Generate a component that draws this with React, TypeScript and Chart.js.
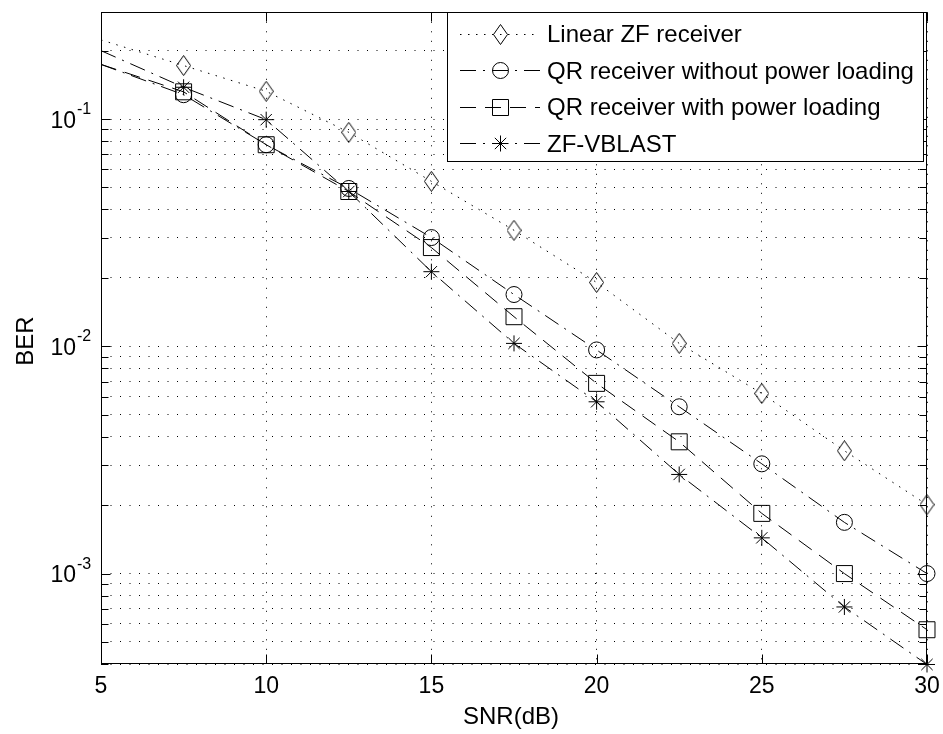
import React, { useEffect, useRef } from 'react';
import { Chart, registerables } from 'chart.js';

Chart.register(...registerables);

// ---------- data ----------
const snrDb = [5, 7.5, 10, 12.5, 15, 17.5, 20, 22.5, 25, 27.5, 30];
const linearZF = [0.223, 0.172, 0.1325, 0.0874, 0.0532, 0.0324, 0.0191, 0.0103, 0.0062, 0.00347, 0.00201];
const qrNoPowerLoading = [0.174, 0.128, 0.0771, 0.0495, 0.0301, 0.0169, 0.00964, 0.00542, 0.00304, 0.00168, 0.001];
const qrPowerLoading = [0.174, 0.1318, 0.0771, 0.048, 0.0272, 0.0135, 0.00687, 0.0038, 0.00184, 0.001, 0.000566];
const zfVblast = [0.2, 0.138, 0.0994, 0.048, 0.0213, 0.0103, 0.0057, 0.00273, 0.001436, 0.000713, 0.000398];

const seriesLabels = [
  'Linear ZF receiver',
  'QR receiver without power loading',
  'QR receiver with power loading',
  'ZF-VBLAST',
];

const xTicks = [5, 10, 15, 20, 25, 30];
const yTicks = [
  0.0004, 0.0005, 0.0006, 0.0007, 0.0008, 0.0009,
  0.001, 0.002, 0.003, 0.004, 0.005, 0.006, 0.007, 0.008, 0.009,
  0.01, 0.02, 0.03, 0.04, 0.05, 0.06, 0.07, 0.08, 0.09,
  0.1, 0.2,
];
const yDecades = [0.001, 0.01, 0.1];
const yDecadeExponents = ['-3', '-2', '-1'];

const xLabel = 'SNR(dB)';
const yLabel = 'BER';

const FONT = "'Liberation Sans', Arial, Helvetica, sans-serif";

type MarkerKind = 'diamond' | 'circle' | 'square' | 'star';
const seriesStyles: { dash: number[]; marker: MarkerKind }[] = [
  { dash: [1.5, 6.5], marker: 'diamond' },
  { dash: [16, 7, 2, 7], marker: 'circle' },
  { dash: [16, 9], marker: 'square' },
  { dash: [16, 7, 2, 7], marker: 'star' },
];

function makeDiamond(w: number, h: number): HTMLCanvasElement {
  const c = document.createElement('canvas');
  c.width = w;
  c.height = h;
  const g = c.getContext('2d')!;
  g.strokeStyle = '#000';
  g.lineWidth = 1;
  g.beginPath();
  g.moveTo(w / 2, 0.5);
  g.lineTo(w - 0.5, h / 2);
  g.lineTo(w / 2, h - 0.5);
  g.lineTo(0.5, h / 2);
  g.closePath();
  g.stroke();
  return c;
}

function drawMarker(ctx: CanvasRenderingContext2D, kind: MarkerKind, x: number, y: number, diamond: HTMLCanvasElement) {
  ctx.save();
  ctx.setLineDash([]);
  ctx.strokeStyle = '#000';
  ctx.lineWidth = 1;
  ctx.beginPath();
  if (kind === 'diamond') {
    ctx.drawImage(diamond, Math.round(x - diamond.width / 2), Math.round(y - diamond.height / 2));
  } else if (kind === 'circle') {
    ctx.arc(x, y, 8, 0, Math.PI * 2);
    ctx.stroke();
  } else if (kind === 'square') {
    ctx.rect(x - 8, y - 8, 16, 16);
    ctx.stroke();
  } else {
    const r = 8;
    const d = r * Math.SQRT1_2;
    ctx.moveTo(x - r, y); ctx.lineTo(x + r, y);
    ctx.moveTo(x, y - r); ctx.lineTo(x, y + r);
    ctx.moveTo(x - d, y - d); ctx.lineTo(x + d, y + d);
    ctx.moveTo(x - d, y + d); ctx.lineTo(x + d, y - d);
    ctx.stroke();
  }
  ctx.restore();
}

export default function App() {
  const canvasRef = useRef<HTMLCanvasElement | null>(null);

  useEffect(() => {
    const canvas = canvasRef.current;
    if (!canvas) return;
    const diamond = makeDiamond(15, 21);
    const seriesValues = [linearZF, qrNoPowerLoading, qrPowerLoading, zfVblast];
    const pointStyleFor = (k: MarkerKind): any =>
      k === 'diamond' ? diamond : k === 'circle' ? 'circle' : k === 'square' ? 'rect' : 'star';
    const radiusFor = (k: MarkerKind) => (k === 'square' ? 11.3 : k === 'diamond' ? 8 : 8);

    const decor = {
      id: 'matlabDecor',
      afterDraw(chart: any) {
        const { ctx, chartArea: a, scales } = chart;
        const xs = scales.x;
        const ys = scales.y;
        const L = Math.round(a.left) + 0.5;
        const R = Math.round(a.right) - 0.5;
        const T = Math.round(a.top) + 0.5;
        const B = Math.round(a.bottom) - 0.5;
        ctx.save();
        ctx.setLineDash([]);
        ctx.strokeStyle = '#000';
        ctx.lineWidth = 1;
        // inner tick marks
        ctx.beginPath();
        for (const v of yTicks) {
          const py = Math.round(ys.getPixelForValue(v)) + 0.5;
          const len = yDecades.includes(v) ? 9 : 7;
          ctx.moveTo(L, py); ctx.lineTo(L + len, py);
          ctx.moveTo(R, py); ctx.lineTo(R - len, py);
        }
        for (const v of xTicks) {
          const px = Math.round(xs.getPixelForValue(v)) + 0.5;
          ctx.moveTo(px, B); ctx.lineTo(px, B - 9);
          ctx.moveTo(px, T); ctx.lineTo(px, T + 9);
        }
        ctx.stroke();
        // axes box
        ctx.lineWidth = 1;
        ctx.strokeRect(L, T, R - L, B - T);

        // tick labels
        ctx.fillStyle = '#000';
        ctx.font = `23px ${FONT}`;
        ctx.textAlign = 'center';
        ctx.textBaseline = 'alphabetic';
        for (const v of xTicks) {
          ctx.fillText(String(v), xs.getPixelForValue(v), a.bottom + 29);
        }
        yDecades.forEach((v, i) => {
          const py = ys.getPixelForValue(v);
          ctx.font = `23px ${FONT}`;
          ctx.textAlign = 'right';
          ctx.fillText('10', 76, py + 8.5);
          ctx.font = `16px ${FONT}`;
          ctx.textAlign = 'left';
          ctx.fillText(yDecadeExponents[i], 77, py - 5);
        });

        // axis titles
        ctx.font = `24px ${FONT}`;
        ctx.textAlign = 'center';
        ctx.fillText(xLabel, (a.left + a.right) / 2 - 3, 724);
        ctx.save();
        ctx.translate(33, 341);
        ctx.rotate(-Math.PI / 2);
        ctx.fillText(yLabel, 0, 0);
        ctx.restore();

        // legend
        const lx0 = 447.5, ly0 = 12.5, lx1 = 923.5, ly1 = 161.5;
        ctx.fillStyle = '#fff';
        ctx.fillRect(lx0, ly0, lx1 - lx0, ly1 - ly0);
        ctx.strokeStyle = '#000';
        ctx.lineWidth = 1;
        ctx.strokeRect(lx0, ly0, lx1 - lx0, ly1 - ly0);
        seriesLabels.forEach((label, i) => {
          const baseline = 42 + i * 36.5;
          const cy = Math.round(baseline - 8.5) + 0.5;
          const st = seriesStyles[i];
          ctx.save();
          ctx.strokeStyle = '#000';
          ctx.lineWidth = 1;
          ctx.setLineDash(st.dash);
          ctx.beginPath();
          ctx.moveTo(460, cy);
          ctx.lineTo(540, cy);
          ctx.stroke();
          ctx.restore();
          drawMarker(ctx, st.marker, 500.5, cy, diamond);
          ctx.fillStyle = '#000';
          ctx.font = `24px ${FONT}`;
          ctx.textAlign = 'left';
          ctx.textBaseline = 'alphabetic';
          ctx.fillText(label, 547, baseline);
        });
        ctx.restore();
      },
    };

    const chart = new Chart(canvas, {
      type: 'line',
      data: {
        datasets: seriesLabels.map((label, i) => {
          const st = seriesStyles[i];
          return {
            label,
            data: snrDb.map((x, j) => ({ x, y: seriesValues[i][j] })),
            borderColor: '#000',
            borderWidth: 1,
            borderDash: st.dash,
            backgroundColor: 'rgba(0,0,0,0)',
            fill: false,
            tension: 0,
            clip: false as any,
            pointStyle: pointStyleFor(st.marker),
            pointRadius: (c: any) => (c.dataIndex === 0 ? 0 : radiusFor(st.marker)),
            pointBorderColor: '#000',
            pointBackgroundColor: 'rgba(0,0,0,0)',
            pointBorderWidth: 1,
          };
        }),
      },
      options: {
        responsive: false,
        animation: false,
        devicePixelRatio: 1,
        layout: { padding: { left: 101, top: 11, right: 16, bottom: 70 } },
        plugins: {
          legend: { display: false },
          tooltip: { enabled: false },
          title: { display: false },
        },
        events: [],
        scales: {
          x: {
            type: 'linear',
            min: 5,
            max: 30,
            ticks: { display: false },
            grid: { color: '#000', lineWidth: 1, drawTicks: false },
            border: { display: false, dash: [1, 8.5] },
            afterBuildTicks: (s: any) => {
              s.ticks = xTicks.map((v) => ({ value: v }));
            },
            afterFit: (s: any) => {
              s.height = 0;
            },
          },
          y: {
            type: 'logarithmic',
            min: 0.0004,
            max: 0.295,
            ticks: { display: false },
            grid: { color: '#000', lineWidth: 1, drawTicks: false },
            border: { display: false, dash: [1, 8.5] },
            afterBuildTicks: (s: any) => {
              s.ticks = yTicks.map((v) => ({ value: v }));
            },
            afterFit: (s: any) => {
              s.width = 0;
            },
          },
        },
      } as any,
      plugins: [decor],
    });

    return () => chart.destroy();
  }, []);

  return (
    <div style={{ position: 'fixed', left: 0, top: 0, width: 943, height: 734, background: '#fff' }}>
      <canvas ref={canvasRef} width={943} height={734} style={{ display: 'block' }} />
    </div>
  );
}
